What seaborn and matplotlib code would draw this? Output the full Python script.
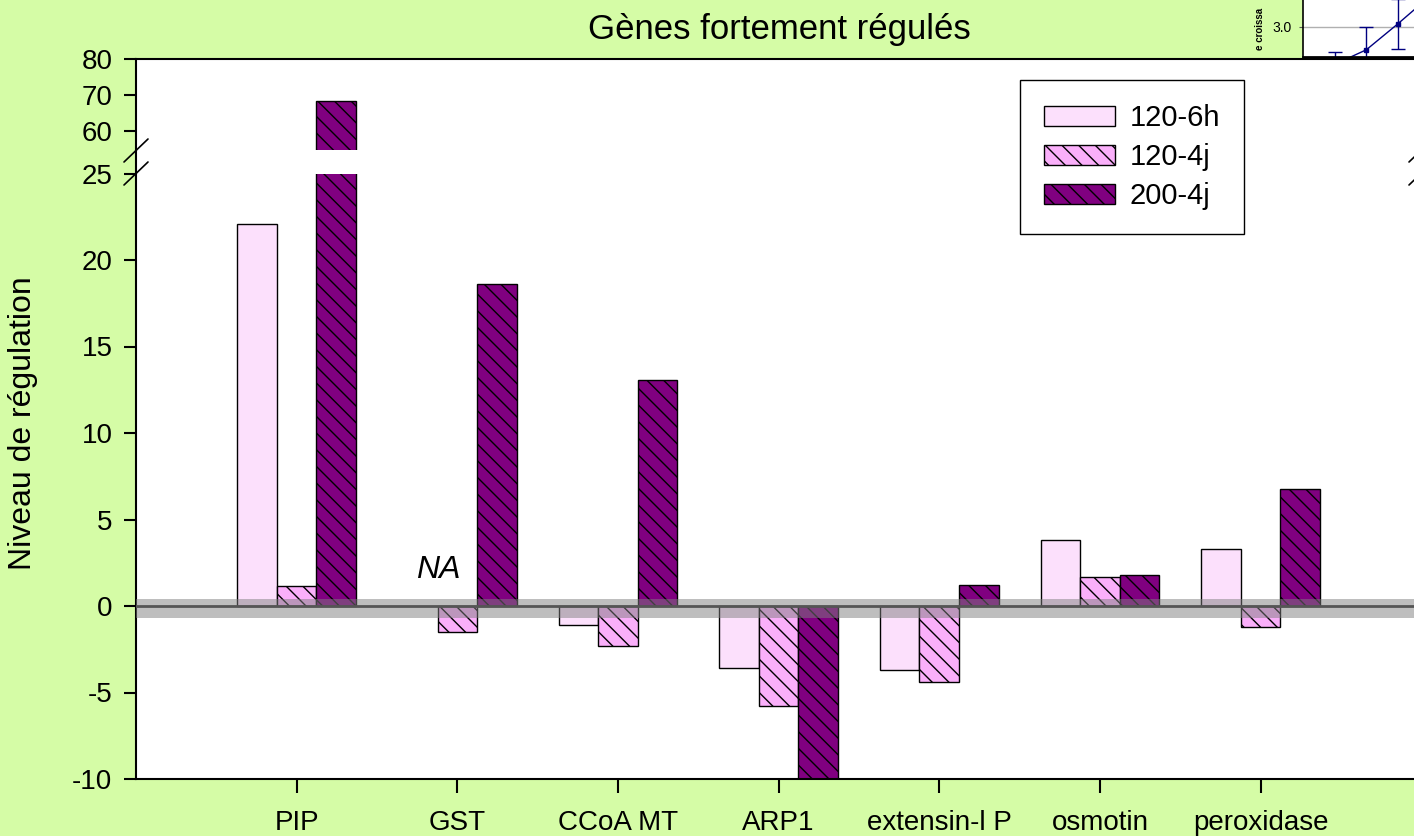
import numpy as np
import pandas as pd
import matplotlib
matplotlib.use("Agg")
import matplotlib.pyplot as plt
import seaborn as sns
from matplotlib.patches import Patch, Rectangle
from matplotlib.lines import Line2D

# ---------------- data ----------------
genes = ["PIP", "GST", "CCoA MT", "ARP1", "extensin-l P", "osmotin", "peroxidase"]
series = ["120-6h", "120-4j", "200-4j"]
val_120_6h = [22.1, np.nan, -1.1, -3.6, -3.7, 3.8, 3.3]
val_120_4j = [1.15, -1.5, -2.3, -5.8, -4.4, 1.65, -1.2]
val_200_4j = [68.3, 18.6, 13.05, -10.0, 1.2, 1.8, 6.75]
colors = ["#FCE0FC", "#FAAFFA", "#800080"]
hatches = ["", "\\\\", "\\\\"]
low_ticks = [-10, -5, 0, 5, 10, 15, 20, 25]
high_ticks = [60, 70, 80]
title = "Gènes fortement régulés"
ylabel = "Niveau de régulation"

# fragment of a neighbouring chart (top right corner)
inset_x = [1, 2, 3, 4]
inset_y = [2.38, 2.62, 3.05, 3.5]
inset_err = [0.2, 0.38, 0.42, 0.4]
inset_ticks = [3.0]

# ---------------- style ----------------
sns.set_style("ticks")
plt.rcParams["font.family"] = ["Liberation Sans", "DejaVu Sans"]
plt.rcParams["hatch.linewidth"] = 1.0
plt.rcParams["axes.unicode_minus"] = False
for k in ("text.color", "axes.labelcolor", "xtick.color", "ytick.color", "axes.edgecolor"):
    plt.rcParams[k] = "black"

rows = []
for s, vals in zip(series, [val_120_6h, val_120_4j, val_200_4j]):
    for g, v in zip(genes, vals):
        if not np.isnan(v):
            rows.append({"gene": g, "series": s, "value": v})
df = pd.DataFrame(rows)

W, H = 1414, 836
GREEN = "#D5FCA6"
fig = plt.figure(figsize=(W / 100, H / 100), dpi=100, facecolor=GREEN)


def fx(px):
    return px / W


def fy(py):
    return 1 - py / H


# white plotting area
fig.patches.append(Rectangle((fx(136), fy(780)), 1.0, fy(59) - fy(780),
                             transform=fig.transFigure, facecolor="white",
                             edgecolor="none", zorder=-1))

X_LEFT, X_RIGHT = 136, 1421.3
ax = fig.add_axes([fx(X_LEFT), fy(779), fx(X_RIGHT) - fx(X_LEFT), fy(173.5) - fy(779)])
ax_top = fig.add_axes([fx(X_LEFT), fy(150), fx(X_RIGHT) - fx(X_LEFT), fy(59) - fy(150)])

TICK_FS = 20
for a in (ax, ax_top):
    a.set_facecolor("none")
    sns.barplot(data=df, x="gene", y="value", hue="series", order=genes,
                hue_order=series, palette=colors, width=0.74, saturation=1,
                edgecolor="black", linewidth=1, legend=False, ax=a, zorder=2)
    for cont, h in zip(a.containers, hatches):
        for bar in cont:
            bar.set_hatch(h)
    a.set_xlim(-1, 7)
    a.set_xlabel("")
    a.set_ylabel("")
    a.spines["right"].set_visible(False)
    for sp in a.spines.values():
        sp.set_linewidth(1.5)
        sp.set_color("black")

ax.set_ylim(-10, 25)
ax.set_yticks(low_ticks)
ax.spines["top"].set_visible(False)
ax.tick_params(axis="y", direction="out", length=9, width=1.5, labelsize=TICK_FS, pad=8)
ax.tick_params(axis="x", direction="out", length=10, width=1.5, labelsize=TICK_FS, pad=12)

ax_top.set_ylim(54.72, 80)
ax_top.set_yticks(high_ticks)
ax_top.spines["bottom"].set_visible(False)
ax_top.set_xticks([])
ax_top.tick_params(axis="y", direction="out", length=9, width=1.5, labelsize=TICK_FS, pad=8)

# grey band around zero and zero line
ax.axhspan(-0.68, 0.4, color="#7f7f7f", alpha=0.5, lw=0, zorder=4)
ax.axhline(0, color="#555555", lw=2, zorder=5)

ax.text(0.88, 2.1, "NA", style="italic", fontsize=23, ha="center", va="center")

# axis break marks and spine across the gap
fig.lines.append(Line2D([fx(136), fx(136)], [fy(150), fy(174)], transform=fig.transFigure,
                        color="black", lw=1.5))
for (x0, y0, x1, y1) in [(124, 162, 148, 139), (124, 185, 148, 162),
                         (1409, 162, 1433, 139), (1409, 185, 1433, 162)]:
    fig.lines.append(Line2D([fx(x0), fx(x1)], [fy(y0), fy(y1)], transform=fig.transFigure,
                            color="black", lw=1.2))

# legend
handles = [Patch(facecolor=c, edgecolor="black", hatch=h, linewidth=1)
           for c, h in zip(colors, hatches)]
leg = fig.legend(handles, series, loc="upper left", bbox_to_anchor=(fx(1020), fy(80)),
                 fontsize=21, frameon=True, fancybox=False, edgecolor="black",
                 framealpha=1, handlelength=2.43, handleheight=0.68,
                 handletextpad=0.5, labelspacing=0.38, borderpad=0.82,
                 borderaxespad=0)
leg.get_frame().set_linewidth(1.0)

# title and y label
fig.text(fx(779), fy(30), title, ha="center", va="center", fontsize=25)
fig.text(fx(23), fy(423), ylabel, rotation=90, ha="center", va="center", fontsize=23)

# fragment of the neighbouring chart
ax_in = fig.add_axes([fx(1303), fy(57), fx(1429) - fx(1303), fy(-8) - fy(57)])
ax_in.set_facecolor("white")
ax_in.errorbar(inset_x, inset_y, yerr=inset_err, color="#000080", lw=1, marker="s",
               ms=3, capsize=5, elinewidth=1)
ax_in.set_xlim(-0.02, 4.0)
ax_in.set_ylim(2.5, 2.5 + 65 / 60)
ax_in.set_yticks(inset_ticks)
ax_in.set_yticklabels([f"{t:.1f}" for t in inset_ticks])
ax_in.set_xticks([])
ax_in.grid(axis="y", color="#b0b0b0", lw=1)
ax_in.set_axisbelow(True)
ax_in.tick_params(axis="y", length=3, labelsize=10, pad=5, color="#555555")
for k in ("top", "right"):
    ax_in.spines[k].set_visible(False)
ax_in.spines["left"].set_linewidth(1.2)
ax_in.spines["bottom"].set_linewidth(2)
fig.text(fx(1260), fy(50), "e croissa", rotation=90, fontsize=7, fontweight="bold",
         ha="center", va="bottom")

fig.savefig("out.png", dpi=100, facecolor=fig.get_facecolor())
